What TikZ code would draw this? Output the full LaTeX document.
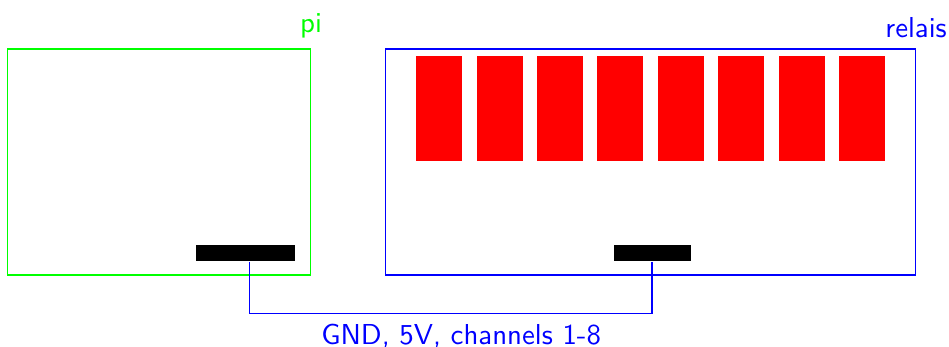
\documentclass[tikz,border=0pt]{standalone}
\begin{document}
\begin{tikzpicture}[x=0.3466pt,y=-0.3466pt,
  font=\sffamily,
  board/.style={draw, inner sep=0pt, line width=0.4pt},
  relay/.style={fill=red, inner sep=0pt, minimum width={46*0.3466pt}, minimum height={105*0.3466pt}},
  header/.style={fill=black, inner sep=0pt, minimum height={16*0.3466pt}},
  wire/.style={draw=blue, line width=0.4pt}]
\useasboundingbox (0,0) rectangle (949,347);
% boards
\node[board, draw=green, minimum width={303*0.3466pt}, minimum height={226*0.3466pt}] (pi) at (159,162) {};
\node[text=green, above] (pilbl) at (pi.north east) {pi};
\node[board, draw=blue, minimum width={530*0.3466pt}, minimum height={226*0.3466pt}] (relais) at (650.5,162) {};
\node[text=blue, above] (relaislbl) at (relais.north east) {relais};
% relays
\foreach \i in {0,...,7} {
  \node[relay] (r\i) at ({439.2+\i*60.43},108.5) {};
}
% headers
\node[header, minimum width={99*0.3466pt}] (pc) at (245.5,253) {};
\node[header, minimum width={77*0.3466pt}] (rc) at (652,253) {};
% wire
\draw[wire] ([xshift={3.8*0.3466pt}]pc.south) -- ++(0,52)
  -| node[pos=0.263, below, text=blue] (wl) {GND, 5V, channels 1-8} (rc.south);
\end{tikzpicture}
\end{document}
